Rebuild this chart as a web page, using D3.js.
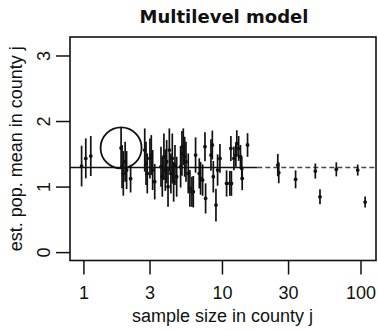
<!DOCTYPE html>
<html><head><meta charset="utf-8">
<script src="https://cdn.jsdelivr.net/npm/d3@7"></script>
<style>body{margin:0;background:#fff}svg{display:block}</style>
</head><body>
<script>
const titleText = "Multilevel model";
const xLabel = "sample size in county j";
const yLabel = "est. pop. mean in county j";
const xTicks = [1, 3, 10, 30, 100];
const yTicks = [0, 1, 2, 3];
const sampleSize = [0.97,1.04,1.13,1.87,1.90,1.94,2.00,2.05,2.19,2.77,2.83,2.89,3.02,3.09,3.16,3.27,3.63,3.71,3.81,3.90,3.99,4.08,4.17,4.28,4.38,4.48,4.58,4.71,5.03,5.14,5.26,5.38,5.50,5.71,5.87,6.07,6.21,6.45,6.86,7.01,7.25,7.54,7.62,8.33,8.52,8.66,9.05,9.30,9.67,10.8,11.4,11.7,11.6,12.2,12.6,12.8,13.2,13.6,13.9,14.0,15.3,25.3,25.7,34,47.2,51,66.9,95.5,108];
const estimate = [1.313,1.430,1.466,1.59,1.303,1.201,1.379,1.252,1.12,1.557,1.354,1.201,1.430,1.481,1.252,1.074,1.303,1.150,1.455,1.252,1.379,0.997,1.557,1.201,1.430,1.074,1.328,1.150,1.303,1.506,1.608,1.455,1.379,1.201,0.972,0.921,0.921,1.481,1.201,1.125,1.099,1.608,0.819,1.481,1.634,1.150,0.718,1.252,1.430,1.048,1.048,1.048,1.582,1.430,1.481,1.659,1.582,1.455,1.277,1.125,1.634,1.328,1.211,1.110,1.237,0.844,1.263,1.252,0.763];
const halfWidth = [0.31,0.305,0.305,0.31,0.33,0.34,0.305,0.29,0.21,0.33,0.33,0.305,0.305,0.305,0.305,0.27,0.305,0.305,0.356,0.318,0.33,0.305,0.33,0.305,0.38,0.305,0.305,0.305,0.318,0.34,0.28,0.305,0.305,0.305,0.28,0.23,0.24,0.27,0.23,0.25,0.24,0.22,0.23,0.24,0.22,0.24,0.25,0.24,0.22,0.20,0.19,0.19,0.19,0.18,0.18,0.20,0.19,0.18,0.18,0.18,0.18,0.17,0.16,0.137,0.115,0.115,0.107,0.084,0.084];
const grandMean = 1.29;
const solidUntil = 18;      // sample size where the scanned reference line turns broken
const circledCounty = 3;

(function () {
const W = 378, H = 330;
const svg = d3.select("body").append("svg").attr("width", W).attr("height", H);
const mL = 70, mR = 376, mT = 37, mB = 260.5;

const x = d3.scaleLog().domain([0.8, 129.4]).range([mL, mR]);
const y = d3.scaleLinear().domain([-0.128, 3.282]).range([mB, mT]);

const font = "'Liberation Sans', Arial, Helvetica, sans-serif";

svg.append("text").attr("x", 224).attr("y", 23).attr("text-anchor", "middle")
  .attr("font-family", "'DejaVu Sans', sans-serif").attr("font-weight", "bold")
  .attr("font-size", 18).attr("fill", "#111").text(titleText);

svg.append("line").attr("x1", mL).attr("x2", x(solidUntil))
  .attr("y1", y(grandMean)).attr("y2", y(grandMean))
  .attr("stroke", "#111").attr("stroke-width", 1.6);
svg.append("line").attr("x1", x(solidUntil)).attr("x2", mR)
  .attr("y1", y(grandMean)).attr("y2", y(grandMean))
  .attr("stroke", "#444").attr("stroke-width", 1.4).attr("stroke-dasharray", "5,3");

const data = sampleSize.map((n, i) => ({n, est: estimate[i], hw: halfWidth[i]}));
const g = svg.append("g");
g.selectAll("line.err").data(data).join("line").attr("class", "err")
  .attr("x1", d => x(d.n)).attr("x2", d => x(d.n))
  .attr("y1", d => y(d.est - d.hw)).attr("y2", d => y(d.est + d.hw))
  .attr("stroke", "#111").attr("stroke-width", 1.7);
g.selectAll("circle.pt").data(data).join("circle").attr("class", "pt")
  .attr("cx", d => x(d.n)).attr("cy", d => y(d.est)).attr("r", 1.9)
  .attr("fill", "#111");

const c = data[circledCounty];
svg.append("circle").attr("cx", x(c.n)).attr("cy", y(c.est)).attr("r", 20.5)
  .attr("fill", "none").attr("stroke", "#111").attr("stroke-width", 1.8);

svg.append("rect").attr("x", mL).attr("y", mT).attr("width", mR - mL).attr("height", mB - mT)
  .attr("fill", "none").attr("stroke", "#111").attr("stroke-width", 1.6);

const xa = svg.append("g").attr("transform", `translate(0,${mB})`)
  .call(d3.axisBottom(x).tickValues(xTicks).tickFormat(d3.format("d")).tickSize(14).tickPadding(12));
xa.select(".domain").remove();
xa.selectAll("line").attr("stroke", "#111").attr("stroke-width", 1.5);
xa.selectAll("text").attr("font-family", font).attr("font-size", 18).attr("fill", "#111");

const ya = svg.append("g").attr("transform", `translate(${mL},0)`)
  .call(d3.axisLeft(y).tickValues(yTicks).tickFormat(d3.format("d")).tickSize(14));
ya.select(".domain").remove();
ya.selectAll("line").attr("stroke", "#111").attr("stroke-width", 1.5);
ya.selectAll("text").attr("font-family", font).attr("font-size", 18).attr("fill", "#111")
  .attr("x", null).attr("dy", null).attr("text-anchor", "middle")
  .attr("transform", "translate(-20,0) rotate(-90)");

svg.append("text").attr("x", 222.5).attr("y", 322).attr("text-anchor", "middle")
  .attr("font-family", font).attr("font-size", 18).attr("fill", "#111").text(xLabel);
svg.append("text").attr("transform", `translate(22,${(mT + mB) / 2}) rotate(-90)`)
  .attr("text-anchor", "middle").attr("font-family", font).attr("font-size", 18)
  .attr("fill", "#111").text(yLabel);
})();
</script>
</body></html>
